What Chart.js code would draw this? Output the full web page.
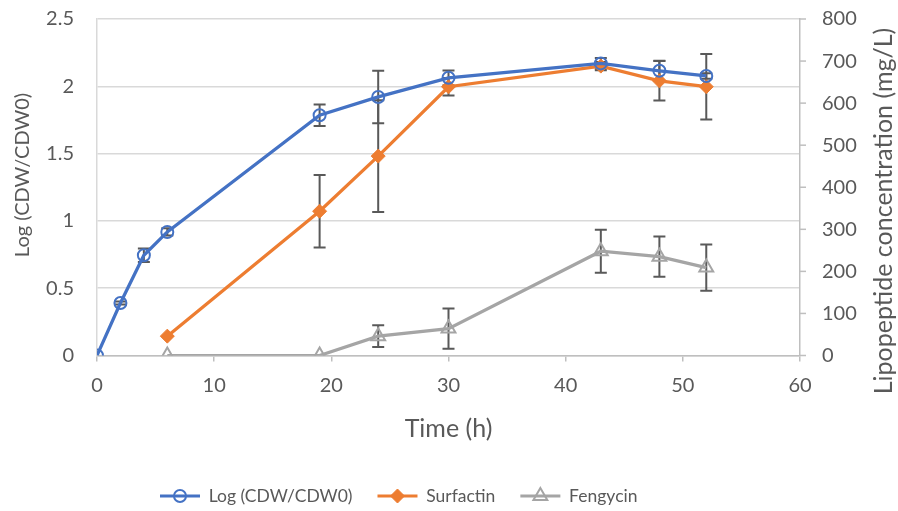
<!DOCTYPE html>
<html>
<head>
<meta charset="utf-8">
<script src="https://cdn.jsdelivr.net/npm/chart.js@4/dist/chart.umd.min.js"></script>
<style>
  html, body { margin: 0; padding: 0; background: #fff; }
  #wrap { width: 898px; height: 511px; }
</style>
</head>
<body>
<div id="wrap"><canvas id="grafico" width="898" height="511"></canvas></div>
<script>
// Dados
var tempoLog = [0, 2, 4, 6, 19, 24, 30, 43, 48, 52];
var logCdw = [0, 0.39, 0.745, 0.918, 1.785, 1.921, 2.063, 2.17, 2.115, 2.077];
var logErro = [0, 0.012, 0.05, 0.027, 0.08, 0.195, 0.055, 0.04, 0.075, 0.02];

var tempoLp = [6, 19, 24, 30, 43, 48, 52];
var surfactin = [46, 343, 474, 639, 688, 653, 639];
var surfErro = [0, 86, 133, 21, 10, 47, 78];
var fengycin = [0, 0, 46, 64, 248, 235, 209];
var fengErro = [0, 0, 26, 48, 51, 48, 55];

var ticksEsq = [0, 0.5, 1, 1.5, 2, 2.5];
var ticksDir = [0, 100, 200, 300, 400, 500, 600, 700, 800];
var ticksX = [0, 10, 20, 30, 40, 50, 60];

var cinzaTexto = '#595959';
var cinzaEixo = '#BFBFBF';
var fonte = 'Lato';
var legendaX = 160;   // inicio da legenda
var legendaY = 496;   // linha central da legenda
var legendaPad = 25;
var legendaFonte = 17.5;

function pontos(xs, ys) {
    var out = [];
    for (let i = 0; i < xs.length; i++) {
        out.push({ x: xs[i], y: ys[i] });
    }
    return out;
}

function tituloVertical(ctx, texto, tamanho, x, y) {
    ctx.save();
    ctx.fillStyle = cinzaTexto;
    ctx.font = tamanho + 'px ' + fonte;
    ctx.textAlign = 'center';
    ctx.textBaseline = 'middle';
    ctx.translate(x, y);
    ctx.rotate(-Math.PI / 2);
    ctx.fillText(texto, 0, 0);
    ctx.restore();
}

// Barras de erro, titulos verticais e marcadores da legenda
var extras = {
    id: 'extras',
    afterLayout: function(chart) {
        // Reposiciona a legenda como no original
        var lg = chart.legend;
        var h = lg.bottom - lg.top;
        lg.top = legendaY - legendaPad - legendaFonte / 2;
        lg.bottom = lg.top + h;
        var w = lg.right - lg.left;
        lg.left = legendaX - legendaPad;
        lg.right = lg.left + w;
    },
    beforeDatasetsDraw: function(chart) {
        var ctx = chart.ctx;
        ctx.save();
        ctx.strokeStyle = '#595959';
        ctx.lineWidth = 2;
        chart.data.datasets.forEach(function(ds, i) {
            var meta = chart.getDatasetMeta(i);
            var escala = chart.scales[ds.yAxisID];
            for (let j = 0; j < meta.data.length; j++) {
                var e = ds.erros[j];
                if (!e) continue;
                var x = meta.data[j].x;
                var v = ds.data[j].y;
                var yTop = escala.getPixelForValue(v + e);
                var yBot = escala.getPixelForValue(v - e);
                ctx.beginPath();
                ctx.moveTo(x, yTop); ctx.lineTo(x, yBot);
                ctx.moveTo(x - 6, yTop); ctx.lineTo(x + 6, yTop);
                ctx.moveTo(x - 6, yBot); ctx.lineTo(x + 6, yBot);
                ctx.stroke();
            }
        });
        ctx.restore();
    },
    afterDraw: function(chart) {
        var ctx = chart.ctx;

        // Marcas curtas do eixo direito
        var dir = chart.scales.yDir;
        ctx.save();
        ctx.strokeStyle = cinzaEixo;
        ctx.lineWidth = 1.5;
        dir.ticks.forEach(function(t) {
            var y = dir.getPixelForValue(t.value);
            ctx.beginPath();
            ctx.moveTo(dir.left, y);
            ctx.lineTo(dir.left + 6, y);
            ctx.stroke();
        });
        ctx.restore();

        tituloVertical(ctx, 'Log (CDW/CDW0)', 20, 23, 175);
        tituloVertical(ctx, 'Lipopeptide concentration (mg/L)', 25, 884, 211);

        var legenda = chart.legend;
        if (!legenda || !legenda.legendHitBoxes) return;
        legenda.legendHitBoxes.forEach(function(hb, i) {
            var ds = chart.data.datasets[i];
            var cx = hb.left + 20;
            var cy = hb.top + hb.height / 2;
            ctx.save();
            ctx.lineWidth = ds.pointBorderWidth;
            ctx.strokeStyle = ds.pointBorderColor;
            ctx.fillStyle = ds.pointBackgroundColor;
            Chart.helpers.drawPoint(ctx, {
                pointStyle: ds.pointStyle,
                radius: ds.pointRadius,
                rotation: 0,
                borderWidth: ds.pointBorderWidth
            }, cx, cy);
            ctx.restore();
        });
    }
};

function fmt(v) { return String(v); }

new Chart('grafico', {
    type: 'line',
    data: {
        datasets: [{
            label: 'Log (CDW/CDW0)',
            data: pontos(tempoLog, logCdw),
            erros: logErro,
            yAxisID: 'yEsq',
            borderColor: '#4472C4',
            backgroundColor: '#4472C4',
            borderWidth: 3.25,
            pointStyle: 'circle',
            pointRadius: 6,
            pointBorderWidth: 2,
            pointBackgroundColor: 'rgba(255,255,255,0)',
            pointBorderColor: '#4472C4'
        }, {
            label: 'Surfactin',
            data: pontos(tempoLp, surfactin),
            erros: surfErro,
            yAxisID: 'yDir',
            borderColor: '#ED7D31',
            backgroundColor: '#ED7D31',
            borderWidth: 3.25,
            pointStyle: 'rectRot',
            pointRadius: 7,
            pointBorderWidth: 1,
            pointBackgroundColor: '#ED7D31',
            pointBorderColor: '#ED7D31'
        }, {
            label: 'Fengycin',
            data: pontos(tempoLp, fengycin),
            erros: fengErro,
            yAxisID: 'yDir',
            borderColor: '#A5A5A5',
            backgroundColor: '#A5A5A5',
            borderWidth: 3.25,
            pointStyle: 'triangle',
            pointRadius: 8,
            pointBorderWidth: 2,
            pointBackgroundColor: 'rgba(255,255,255,0)',
            pointBorderColor: '#A5A5A5'
        }]
    },
    options: {
        responsive: false,
        animation: false,
        layout: { padding: { top: 19, left: 0, right: 0, bottom: 0 } },
        plugins: {
            tooltip: { enabled: false },
            legend: {
                position: 'bottom',
                align: 'start',
                labels: {
                    color: cinzaTexto,
                    font: { family: fonte, size: legendaFonte },
                    boxWidth: 40,
                    boxHeight: 3,
                    padding: legendaPad,
                    generateLabels: function(chart) {
                        return chart.data.datasets.map(function(ds, i) {
                            return {
                                text: ds.label,
                                fillStyle: ds.borderColor,
                                strokeStyle: ds.borderColor,
                                lineWidth: 0,
                                fontColor: cinzaTexto,
                                datasetIndex: i
                            };
                        });
                    }
                }
            }
        },
        scales: {
            x: {
                type: 'linear',
                min: 0, max: 60,
                afterBuildTicks: function(s) { s.ticks = ticksX.map(function(v) { return { value: v }; }); },
                border: { color: cinzaEixo, width: 1.5 },
                grid: { drawOnChartArea: false, drawTicks: true, tickLength: 6, color: cinzaEixo, lineWidth: 1.5 },
                ticks: { color: cinzaTexto, font: { family: fonte, size: 20 }, padding: 12, callback: fmt },
                title: { display: true, text: 'Time (h)', color: cinzaTexto, font: { family: fonte, size: 25 }, padding: { top: 0, bottom: 15 } },
                afterFit: function(s) { s.height = 103; }
            },
            yEsq: {
                type: 'linear',
                position: 'left',
                min: 0, max: 2.5,
                afterBuildTicks: function(s) { s.ticks = ticksEsq.map(function(v) { return { value: v }; }); },
                border: { color: '#D9D9D9', width: 1.5 },
                grid: { drawOnChartArea: true, drawTicks: true, tickLength: 23, tickColor: 'rgba(0,0,0,0)', color: '#D9D9D9', lineWidth: 1.5 },
                ticks: { color: cinzaTexto, font: { family: fonte, size: 20 }, padding: 0, callback: fmt },
                afterFit: function(s) { s.width = 97; }
            },
            yDir: {
                type: 'linear',
                position: 'right',
                min: 0, max: 800,
                afterBuildTicks: function(s) { s.ticks = ticksDir.map(function(v) { return { value: v }; }); },
                border: { color: cinzaEixo, width: 1.5 },
                grid: { drawOnChartArea: false, drawTicks: true, tickLength: 22, tickColor: 'rgba(0,0,0,0)' },
                ticks: { color: cinzaTexto, font: { family: fonte, size: 20 }, padding: 0, callback: fmt },
                afterFit: function(s) { s.width = 98; }
            }
        }
    },
    plugins: [extras]
});
</script>
</body>
</html>
